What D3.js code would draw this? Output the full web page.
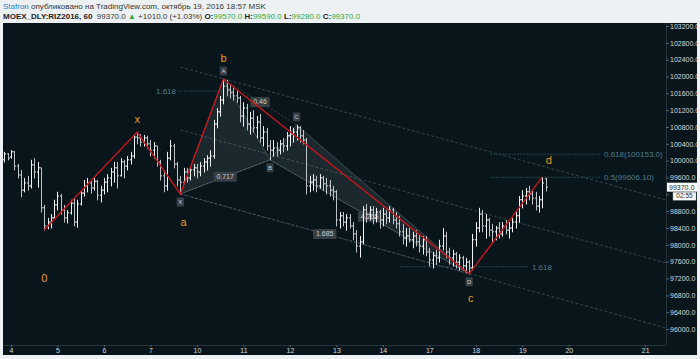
<!DOCTYPE html>
<html>
<head>
<meta charset="utf-8">
<script src="https://cdn.jsdelivr.net/npm/d3@7"></script>
<style>
body { margin: 0; background: #eef1f4; }
svg { display: block; font-family: "Liberation Sans", Arial, sans-serif; }
</style>
</head>
<body>
<script>
// hourly OHLC bars, first bar is index -2 (two bars before Oct 4)
var barStart = -2;
var barHigh = [100210,100180,100250,100230,99920,99780,99590,99640,100020,100060,99970,99830,
  98950,98640,98730,99070,99260,99210,98950,98830,99070,99110,
  99070,99300,99540,99590,99540,99590,99540,99400,99590,99680,
  99830,99970,99970,100060,100020,100110,100210,100630,100680,100630,
  100610,100590,100490,100440,100350,100020,99780,100210,100490,100400,
  99970,99640,99830,99830,99870,99920,99920,99970,100060,100130,
  100250,100970,101250,101540,101940,101920,101820,101730,101680,101540,
  101390,101350,101160,101200,101060,101110,100820,100780,100490,100490,
  100440,100490,100540,100680,100820,100780,100850,100820,100730,100540,
  99640,99680,99640,99680,99640,99590,99540,99400,99300,98780,
  98780,98730,98730,98540,98350,98210,98920,98970,98920,98920,
  98880,98830,98880,98830,98920,98880,98780,98690,98500,98400,
  98400,98310,98350,98260,98210,98210,97930,97830,97880,98120,
  98400,98310,97930,97880,97830,97780,97740,97690,97640,98260,
  98540,98880,98830,98730,98640,98500,98450,98540,98540,98590,
  98540,98640,98780,99160,99300,99350,99400,99300,99260,99160,
  99610,99590];
var barLow = [99970,100020,100060,99780,99590,99140,99260,99300,99350,99590,99370,98780,
  98350,98380,98400,98640,98830,98730,98540,98520,98730,98450,
  98420,98950,99160,99260,99230,99300,99070,99020,99210,99260,
  99400,99490,99350,99640,99590,99780,99920,100060,100400,100350,
  100350,100300,100110,100060,99870,99540,99260,99300,100020,99830,
  99400,99210,99450,99490,99540,99640,99590,99640,99730,99780,
  99870,100060,100780,101060,101350,101540,101490,101440,101390,100920,
  100820,100730,100630,100680,100540,100440,100350,100250,100020,100110,
  100110,100160,100210,100250,100350,100440,100490,100440,100400,99210,
  99260,99300,99260,99350,99300,99210,99160,99070,98450,98400,
  98450,98350,98400,98120,97830,97710,98020,98540,98590,98500,
  98540,98400,98450,98500,98540,98500,98400,98210,98020,97970,
  98070,97930,97970,97830,97780,97740,97500,97450,97540,97590,
  97880,97690,97540,97500,97450,97400,97400,97350,97310,97400,
  97970,98310,98310,98160,98210,98070,98120,98160,98210,98260,
  98160,98310,98400,98540,98880,98970,99070,98970,98830,98780,
  98880,99280];
var barOpen = [100020,100160,100090,100210,99870,99660,99300,99470,99400,99900,99730,99830,
  98880,98450,98540,98640,98950,99160,98830,98640,98760,98990,
  98540,98970,99230,99400,99470,99350,99510,99180,99300,99490,
  99590,99730,99830,99640,99970,99870,100020,100110,100560,100540,
  100440,100540,100400,100250,100350,99970,99640,99400,100060,100350,
  99920,99540,99490,99730,99590,99780,99830,99730,99870,99970,
  100060,100110,100870,101160,101440,101770,101680,101630,101540,101490,
  101060,101250,100870,101010,100780,100920,100540,100680,100350,100250,
  100300,100250,100400,100350,100590,100630,100680,100780,100590,100490,
  99400,99490,99540,99400,99590,99450,99400,99300,99260,98590,
  98690,98540,98640,98450,98260,97970,98070,98830,98730,98830,
  98640,98780,98590,98730,98640,98830,98590,98500,98310,98160,
  98210,98120,98210,98070,97970,98120,97830,97640,97740,97690,
  97970,98210,97830,97690,97780,97590,97690,97500,97590,97450,
  98120,98400,98730,98450,98590,98350,98310,98400,98260,98450,
  98350,98400,98540,98690,99070,99160,99260,99210,99110,98920,
  99070,99570];
var barClose = [100160,100060,100210,99870,99660,99300,99470,99400,99900,99730,99830,98880,
  98450,98540,98640,98950,99160,98830,98640,98760,98990,98540,
  98970,99230,99400,99470,99350,99510,99180,99300,99490,99590,
  99730,99830,99640,99970,99870,100020,100110,100560,100540,100440,
  100540,100400,100250,100350,99970,99640,99400,100060,100350,99920,
  99540,99490,99730,99590,99780,99830,99730,99870,99970,100060,
  100110,100870,101160,101440,101770,101680,101630,101540,101490,101060,
  101250,100870,101010,100780,100920,100540,100680,100350,100250,100300,
  100250,100400,100350,100590,100630,100680,100780,100590,100490,99400,
  99490,99540,99400,99590,99450,99400,99300,99260,98590,98690,
  98540,98640,98450,98260,97970,98070,98830,98730,98830,98640,
  98780,98590,98730,98640,98830,98590,98500,98310,98160,98210,
  98120,98210,98070,97970,98120,97830,97640,97740,97690,97970,
  98210,97830,97690,97780,97590,97690,97500,97590,97450,98120,
  98400,98730,98450,98590,98350,98310,98400,98260,98450,98350,
  98400,98540,98690,99070,99160,99260,99210,99110,98920,99070,
  99470,99370];

// time axis: bar index of each day label
var dayTicks = [0,14,28,42,56,70,84,98,112,126,140,154,168,191];
var dayLabels = ["4","5","6","7","10","11","12","13","14","17","18","19","20","21"];
var priceTicks = d3.range(96000, 103201, 400);

// wave (red zigzag) turning points: bar index, price
var waveIdx = [10, 38, 51, 64, 138, 160];
var wavePrice = [98350, 100680, 99210, 101940, 97310, 99610];
// orange wave labels
var waveNames = ["0","x","a","b","c","d"];
var waveNameIdx = [10, 38, 52, 64, 138.5, 162];
var waveNamePrice = [97210, 100980, 98540, 102440, 96740, 100020];

// XABCD pattern
var patNames = ["X","A","B","C","D"];
var patIdx = [51, 64, 78, 86, 138];
var patPrice = [99210, 101940, 100020, 100850, 97310];
var ratioPairs = [[0,2],[1,3],[0,4],[2,4]];
var ratioText = ["0.717","0.46","1.685","4.265"];

// parallel dashed channel lines
var chanIdx0 = [51, 51, 51], chanIdx1 = [197.3, 197.3, 197.3];
var chanP0 = [102226, 100728, 99208], chanP1 = [99065, 97568, 96023];

// fib levels
var fibText = ["1.618","1.618","0.618(100153.0)","0.5(99606.10)"];
var fibPrice = [101655, 97480, 100153, 99606.1];
var fibIdx0 = [50.3, 117.2, 144.3, 144.3];
var fibIdx1 = [63.9, 155.7, 177.4, 177.4];

var lastPrice = 99370;

var W = 700, H = 359;
var paneL = 3, paneR = 666, paneT = 23, paneB = 345;

var x = d3.scaleLinear().domain([0, 154]).range([11, 522.3]);
var y = d3.scaleLinear().domain([96000, 103200]).range([329, 26]);

var svg = d3.select("body").append("svg").attr("width", W).attr("height", H);

svg.append("rect").attr("width", W).attr("height", H).attr("fill", "#eef1f4");
svg.append("rect").attr("x", paneL).attr("y", paneT).attr("width", 694).attr("height", 332).attr("fill", "#08161c");

var defs = svg.append("defs");
defs.append("clipPath").attr("id", "pane").append("rect")
  .attr("x", paneL).attr("y", paneT).attr("width", paneR - paneL).attr("height", paneB - paneT);
defs.append("clipPath").attr("id", "axisclip").append("rect")
  .attr("x", paneR).attr("y", paneT).attr("width", 31).attr("height", paneB - paneT);

var g = svg.append("g").attr("clip-path", "url(#pane)");

// channels
chanIdx0.forEach(function(d, k) {
  g.append("line")
    .attr("x1", x(d)).attr("y1", y(chanP0[k]))
    .attr("x2", x(chanIdx1[k])).attr("y2", y(chanP1[k]))
    .attr("stroke", "#34444c").attr("stroke-width", 1).attr("stroke-dasharray", "3,2");
});

// fib levels
fibText.forEach(function(t, k) {
  g.append("line")
    .attr("x1", x(fibIdx0[k])).attr("x2", x(fibIdx1[k]))
    .attr("y1", y(fibPrice[k])).attr("y2", y(fibPrice[k]))
    .attr("stroke", "#24444e").attr("stroke-width", 1).attr("stroke-dasharray", "2,1");
  var left = k == 0;
  g.append("text")
    .attr("x", left ? x(fibIdx0[k]) - 2 : x(fibIdx1[k]) + 4)
    .attr("y", y(fibPrice[k]))
    .attr("dy", "0.35em")
    .attr("text-anchor", left ? "end" : "start")
    .attr("fill", "#4d7b88").attr("font-size", 8).text(t);
});

// pattern triangles
function pt(k) { return [x(patIdx[k]), y(patPrice[k])]; }
[[0,1,2],[2,3,4]].forEach(function(tri) {
  g.append("path")
    .attr("d", d3.line()(tri.map(pt)) + "Z")
    .attr("fill", "rgba(150,160,166,0.14)")
    .attr("stroke", "rgba(170,180,185,0.3)").attr("stroke-width", 1);
});
ratioPairs.forEach(function(pr, k) {
  var a = pt(pr[0]), b = pt(pr[1]);
  g.append("line").attr("x1", a[0]).attr("y1", a[1]).attr("x2", b[0]).attr("y2", b[1])
    .attr("stroke", "rgba(160,170,175,0.3)").attr("stroke-dasharray", "2,2");
});
function boxLabel(sel, cx, cy, t, fs) {
  var tw = t.length * fs * 0.55 + 4;
  sel.append("rect").attr("x", cx - tw / 2).attr("y", cy - fs / 2 - 1.5)
    .attr("width", tw).attr("height", fs + 3).attr("rx", 1).attr("fill", "#353f44");
  sel.append("text").attr("x", cx).attr("y", cy).attr("dy", "0.35em")
    .attr("text-anchor", "middle").attr("fill", "#c8cdd0").attr("font-size", fs).text(t);
}
// BD ratio label sits under the bars
(function() {
  var a = pt(2), b = pt(4);
  boxLabel(g, (a[0] + b[0]) / 2, (a[1] + b[1]) / 2, ratioText[3], 7);
})();

// OHLC bars
var bars = g.append("g");
barHigh.forEach(function(h, k) {
  var i = k + barStart, cx = Math.round(x(i)) + 0.5;
  var up = barClose[k] >= barOpen[k];
  var col = up ? "#f4f4f4" : "#c2c5c7";
  bars.append("line").attr("x1", cx).attr("x2", cx).attr("y1", y(h)).attr("y2", y(barLow[k]) + 0.5)
    .attr("stroke", col).attr("stroke-width", 1);
  bars.append("line").attr("x1", cx - 1.5).attr("x2", cx).attr("y1", y(barOpen[k])).attr("y2", y(barOpen[k]))
    .attr("stroke", col).attr("stroke-width", 1);
  bars.append("line").attr("x1", cx).attr("x2", cx + 1.5).attr("y1", y(barClose[k])).attr("y2", y(barClose[k]))
    .attr("stroke", col).attr("stroke-width", 1);
});

// other ratio labels
[0,1,2].forEach(function(k) {
  var a = pt(ratioPairs[k][0]), b = pt(ratioPairs[k][1]);
  boxLabel(g, (a[0] + b[0]) / 2, (a[1] + b[1]) / 2, ratioText[k], 7);
});

// red zigzag
g.append("path")
  .attr("d", d3.line().x(function(d, k) { return x(d); }).y(function(d, k) { return y(wavePrice[k]); })(waveIdx))
  .attr("fill", "none").attr("stroke", "#c8161b").attr("stroke-width", 1.4);

// pattern point labels
patNames.forEach(function(t, k) {
  var above = (k == 1 || k == 3);
  boxLabel(g, x(patIdx[k]), y(patPrice[k]) + (above ? -8 : 8), t, 6);
});

// wave labels
waveNames.forEach(function(t, k) {
  g.append("text").attr("x", x(waveNameIdx[k])).attr("y", y(waveNamePrice[k]))
    .attr("dy", "0.35em").attr("text-anchor", "middle")
    .attr("fill", "#e89a1c").attr("font-size", 11).text(t);
});

// pane borders
svg.append("line").attr("x1", paneR + 0.5).attr("x2", paneR + 0.5).attr("y1", paneT).attr("y2", paneB)
  .attr("stroke", "#25343b");
svg.append("line").attr("x1", paneL).attr("x2", paneR).attr("y1", paneB + 0.5).attr("y2", paneB + 0.5)
  .attr("stroke", "#25343b");

// price axis (the 99200 label is hidden behind the last-price marker)
var ax = svg.append("g").attr("clip-path", "url(#axisclip)").append("g")
  .attr("transform", "translate(" + paneR + ",0)")
  .call(d3.axisRight(y).tickValues(priceTicks).tickSize(3).tickPadding(1)
    .tickFormat(function(d) { return d == 99200 ? "" : d3.format(".1f")(d); }));
ax.select(".domain").remove();
ax.selectAll("line").attr("stroke", "#556168");
ax.selectAll("text").attr("fill", "#d6dadc").attr("font-size", 7).attr("font-family", "Liberation Sans, Arial, sans-serif");

// last price marker
svg.append("rect").attr("x", 667).attr("y", y(lastPrice) - 4.5).attr("width", 30).attr("height", 9).attr("fill", "#ffffff");
svg.append("text").attr("x", 669).attr("y", y(lastPrice)).attr("dy", "0.35em")
  .attr("fill", "#1a2328").attr("font-size", 7).text(d3.format(".1f")(lastPrice));
svg.append("rect").attr("x", 673).attr("y", y(lastPrice) + 5).attr("width", 23).attr("height", 8)
  .attr("fill", "#ffffff").attr("stroke", "#9aa3a8").attr("stroke-width", 0.5);
svg.append("text").attr("x", 684.5).attr("y", y(lastPrice) + 9).attr("dy", "0.35em").attr("text-anchor", "middle")
  .attr("fill", "#1a2328").attr("font-size", 6.5).text("02:55");

// time axis
var tx = svg.append("g").attr("transform", "translate(0," + paneB + ")")
  .call(d3.axisBottom(x).tickValues(dayTicks).tickSize(2).tickPadding(1)
    .tickFormat(function(d, k) { return dayLabels[k]; }));
tx.select(".domain").remove();
tx.selectAll("line").attr("stroke", "#556168");
tx.selectAll("text").attr("fill", "#d6dadc").attr("font-size", 7).attr("font-family", "Liberation Sans, Arial, sans-serif");

svg.append("rect").attr("x", 0).attr("y", 355).attr("width", W).attr("height", 4).attr("fill", "#eef1f4");

// header
var h1 = svg.append("text").attr("x", 3).attr("y", 9).attr("font-size", 8).attr("fill", "#333");
h1.append("tspan").attr("fill", "#2d7fd0").text("Stafron");
h1.append("tspan").text(" опубликовано на TradingView.com, октябрь 19, 2016 18:57 MSK");
var h2 = svg.append("text").attr("x", 3).attr("y", 18.5).attr("font-size", 8).attr("fill", "#333");
var green = "#2eaa3a";
[["MOEX_DLY:RIZ2016, 60", "bold", "#222"], ["  99370.0 ", "normal", "#333"], ["\u25B2", "normal", green],
 [" +1010.0 (+1.03%) ", "normal", "#333"], ["O:", "bold", "#222"], ["99570.0", "normal", green],
 [" H:", "bold", "#222"], ["99590.0", "normal", green], [" L:", "bold", "#222"], ["99280.0", "normal", green],
 [" C:", "bold", "#222"], ["99370.0", "normal", green]].forEach(function(p) {
  h2.append("tspan").attr("font-weight", p[1]).attr("fill", p[2]).attr("xml:space", "preserve").text(p[0]);
});
</script>
</body>
</html>
